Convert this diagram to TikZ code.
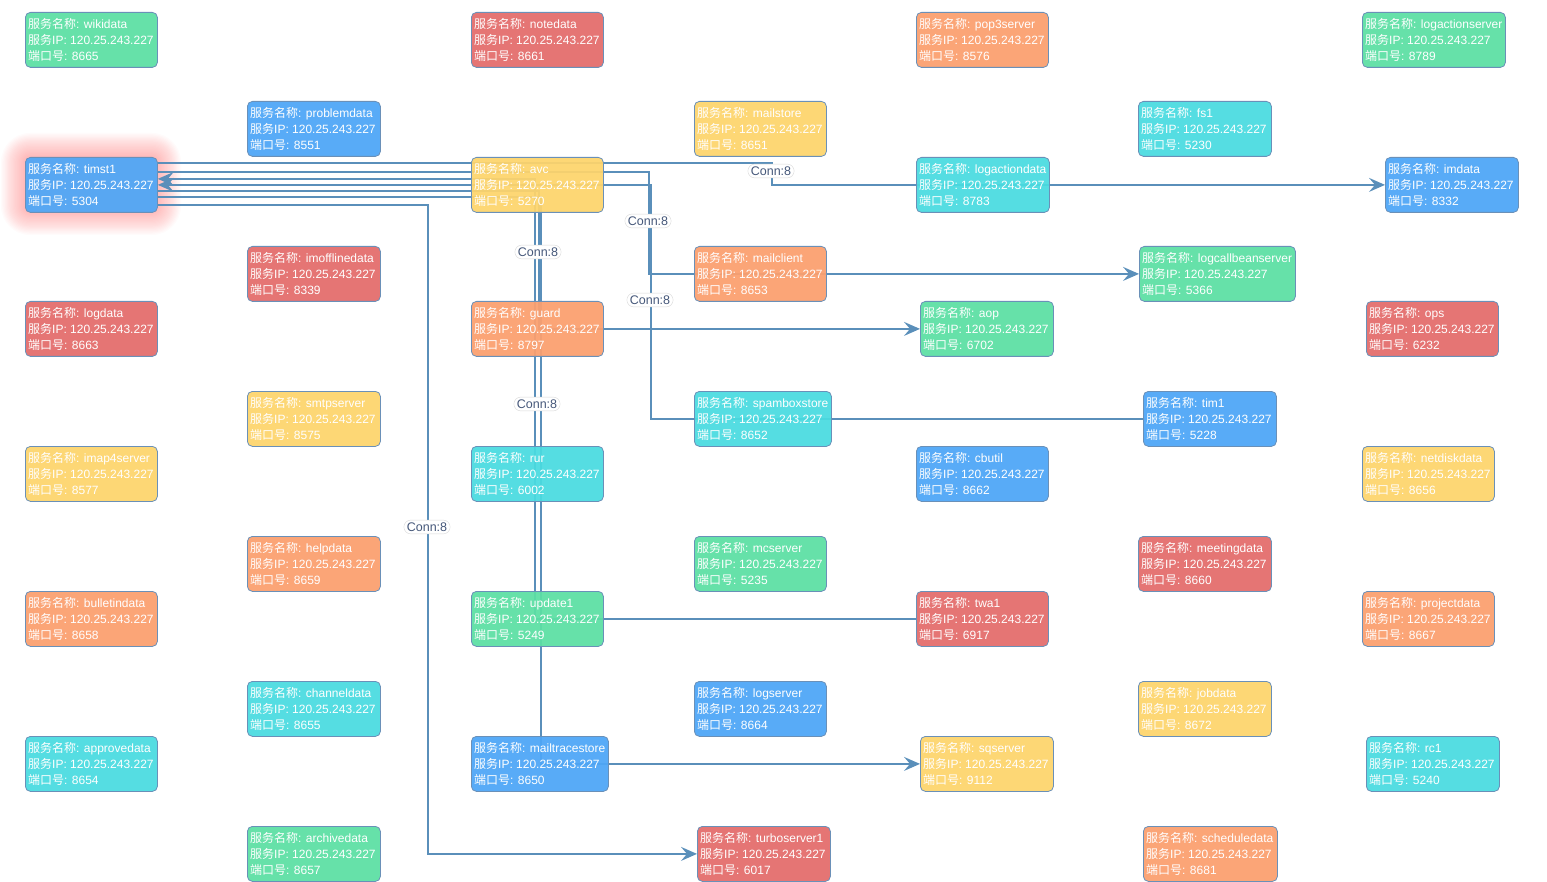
\documentclass[tikz,border=0pt]{standalone}
\usepackage{fontspec}
\setmainfont{Liberation Sans}
\newfontfamily\cjk{Noto Sans CJK SC}
\usetikzlibrary{arrows.meta}
\definecolor{cgreen}{HTML}{5CDFA4}
\definecolor{cred}{HTML}{E36C6B}
\definecolor{corange}{HTML}{FB9F6F}
\definecolor{cblue}{HTML}{4EA6F6}
\definecolor{cyellow}{HTML}{FDD46C}
\definecolor{ccyan}{HTML}{4ADBE0}
\definecolor{cborder}{HTML}{6A90B8}
\definecolor{cedge}{HTML}{5A8FBA}
\definecolor{clabel}{HTML}{46587A}
\pgfdeclarelayer{bg}
\pgfsetlayers{bg,main}
\tikzset{
 box/.style={draw=cborder, line width=0.8pt, rounded corners=5pt, minimum height=55pt, inner sep=0pt, anchor=north west, fill opacity=0.94},
 txt/.style={text=white, align=left, inner sep=0pt, anchor=west, font=\fontsize{12}{16}\selectfont},
 edge/.style={draw=cedge, line width=1.6pt},
 arr/.style={-{Stealth[length=16pt,width=14pt,inset=6pt]}},
 lbl/.style={fill=white, draw=black!15, rounded corners=7pt, inner xsep=3pt, inner ysep=2.5pt, text=clabel, font=\fontsize{12.5}{13}\selectfont}
}
\newcommand\svc[6]{%
 \node[box,fill=#2,minimum width=#5pt] (#1) at (#3,#4) {};
 \node[txt] (#1-t) at ([xshift=3pt]#1.west) {{\cjk 服务名称}: #1\\{\cjk 服务}IP: 120.25.243.227\\{\cjk 端口号}: #6};
}
\begin{document}
\begin{tikzpicture}[x=1pt,y=-1pt]
\useasboundingbox (0,0) rectangle (1547,882);
\svc{wikidata}{cgreen}{25}{12}{132}{8665}
\svc{notedata}{cred}{471}{12}{132}{8661}
\svc{pop3server}{corange}{916}{12}{132}{8576}
\svc{logactionserver}{cgreen}{1362}{12}{143}{8789}
\svc{problemdata}{cblue}{247}{101}{133}{8551}
\svc{mailstore}{cyellow}{694}{101}{132}{8651}
\svc{fs1}{ccyan}{1138}{101}{133}{5230}
\svc{timst1}{cblue}{25}{157}{132}{5304}
\svc{avc}{cyellow}{471}{157}{132}{5270}
\svc{logactiondata}{ccyan}{916}{157}{133}{8783}
\svc{imdata}{cblue}{1385}{157}{133}{8332}
\svc{imofflinedata}{cred}{247}{246}{133}{8339}
\svc{mailclient}{corange}{694}{246}{132}{8653}
\svc{logcallbeanserver}{cgreen}{1139}{246}{156}{5366}
\svc{logdata}{cred}{25}{301}{132}{8663}
\svc{guard}{corange}{471}{301}{132}{8797}
\svc{aop}{cgreen}{920}{301}{133}{6702}
\svc{ops}{cred}{1366}{301}{132}{6232}
\svc{smtpserver}{cyellow}{247}{391}{133}{8575}
\svc{spamboxstore}{ccyan}{694}{391}{137}{8652}
\svc{tim1}{cblue}{1143}{391}{133}{5228}
\svc{imap4server}{cyellow}{25}{446}{132}{8577}
\svc{rur}{ccyan}{471}{446}{132}{6002}
\svc{cbutil}{cblue}{916}{446}{132}{8662}
\svc{netdiskdata}{cyellow}{1362}{446}{132}{8656}
\svc{helpdata}{corange}{247}{536}{133}{8659}
\svc{mcserver}{cgreen}{694}{536}{132}{5235}
\svc{meetingdata}{cred}{1138}{536}{133}{8660}
\svc{bulletindata}{corange}{25}{591}{132}{8658}
\svc{update1}{cgreen}{471}{591}{132}{5249}
\svc{twa1}{cred}{916}{591}{132}{6917}
\svc{projectdata}{corange}{1362}{591}{132}{8667}
\svc{channeldata}{ccyan}{247}{681}{133}{8655}
\svc{logserver}{cblue}{694}{681}{132}{8664}
\svc{jobdata}{cyellow}{1138}{681}{133}{8672}
\svc{approvedata}{ccyan}{25}{736}{132}{8654}
\svc{mailtracestore}{cblue}{471}{736}{137}{8650}
\svc{sqserver}{cyellow}{920}{736}{133}{9112}
\svc{rc1}{ccyan}{1366}{736}{133}{5240}
\svc{archivedata}{cgreen}{247}{826}{133}{8657}
\svc{turboserver1}{cred}{697}{826}{133}{6017}
\svc{scheduledata}{corange}{1143}{826}{134}{8681}
\begin{pgfonlayer}{bg}
% glow around timst1
\foreach \i in {1,...,20}
  \fill[red, opacity=0.014, rounded corners=5pt+1.2*\i] (25-1.2*\i,157-1.2*\i) rectangle (157+1.2*\i,211+1.2*\i);
% connectors
\draw[edge,arr] ([yshift=22pt]timst1.east) -- ++(614,0) |- (imdata.west);
\draw[edge,arr] ([yshift=13pt]timst1.east) -- ++(491,0) |- (logcallbeanserver.west);
\draw[edge,arr] (twa1.west) -- ++(-381,0) |- ([yshift=6pt]timst1.east);
\draw[edge,arr] (tim1.west) -- ++(-492,0) |- (timst1.east);
\draw[edge,arr] ([yshift=-6pt]timst1.east) -- ++(381,0) |- (aop.west);
\draw[edge,arr] ([yshift=-12pt]timst1.east) -- ++(383,0) |- (sqserver.west);
\draw[edge,arr] ([yshift=-20pt]timst1.east) -- ++(270,0) |- (turboserver1.west);
\end{pgfonlayer}
% labels
\node[lbl] (c1) at (771,171) {Conn:8};
\node[lbl] (c2) at (648,221) {Conn:8};
\node[lbl] (c3) at (538,252) {Conn:8};
\node[lbl] (c4) at (650,300) {Conn:8};
\node[lbl] (c5) at (537,404) {Conn:8};
\node[lbl] (c6) at (427,527) {Conn:8};
\end{tikzpicture}
\end{document}
